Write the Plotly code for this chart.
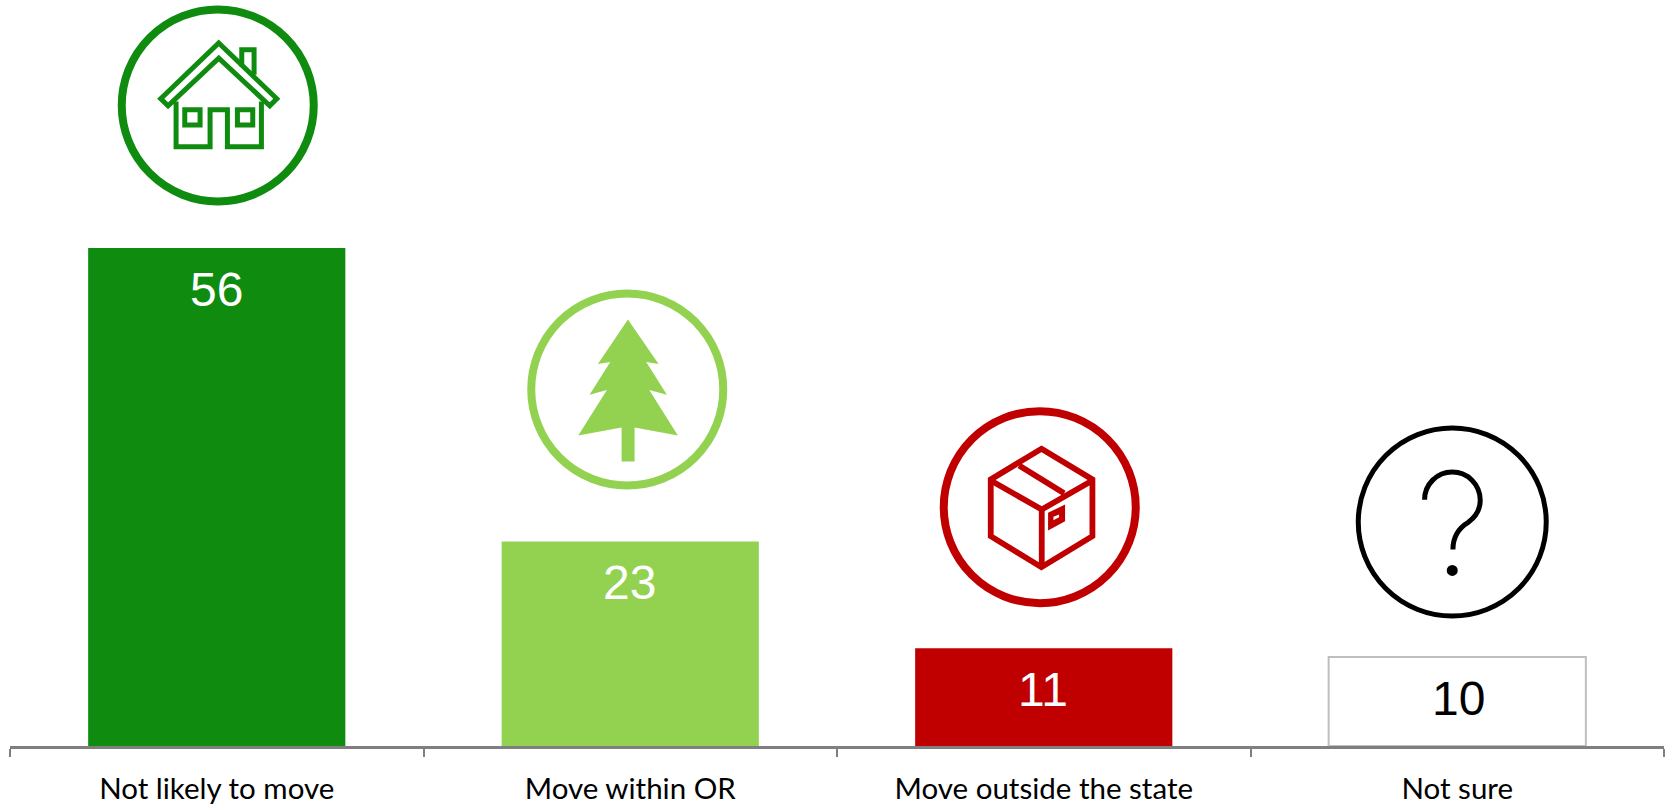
import plotly.graph_objects as go

categories = ["Not likely to move", "Move within OR", "Move outside the state", "Not sure"]
values = [56, 23, 11, 10]
bar_colors = ["#0F8C0F", "#92D250", "#C00000", "#FFFFFF"]
bar_lines = ["#0F8C0F", "#92D250", "#C00000", "#BFBFBF"]
bar_line_widths = [0, 0, 0, 2]
label_colors = ["#FFFFFF", "#FFFFFF", "#FFFFFF", "#000000"]
label_shifts = [0, -1, -1, 1]
icon_colors = ["#0F8C0F", "#92D250", "#C00000", "#000000"]
icon_rises = [142.5, 152, 141, 135]
icon_shifts = [1, -3, -4, -5]
icon_radii = [96, 96, 96, 94]
icon_strokes = [8, 8, 8, 5]

H = 3.0  # reference crop scale of the icon outlines


def to_path(cmds, c, i):
    out = []
    for cmd in cmds:
        if cmd == "Z":
            out.append("Z")
            continue
        letter, pts = cmd[0], cmd[1:]
        s = " ".join(f"{(x - c[0]) / H + icon_shifts[i]:.2f},{(c[1] - y) / H + icon_rises[i]:.2f}" for x, y in pts)
        out.append(letter + s)
    return " ".join(out)


def poly(pts, close=True):
    cmds = [("M", pts[0])] + [("L", p) for p in pts[1:]]
    return cmds + ["Z"] if close else cmds


house_center = (381, 317)
house = [
    poly([(384, 130), (558, 297), (537, 318), (384, 175), (232, 318), (210, 297)]),
    poly([(453, 200), (453, 150), (490, 150), (490, 225)], False),
    poly([(256, 305), (256, 441), (358, 441), (358, 330), (410, 330), (410, 441), (512, 441), (512, 305)], False),
    poly([(282, 330), (328, 330), (328, 376), (282, 376)]),
    poly([(440, 330), (486, 330), (486, 376), (440, 376)]),
]
tree_center = (351, 332)
tree = [
    poly([(353, 122), (445, 256), (408, 250), (470, 348), (417, 334), (503, 470), (373, 446), (373, 548),
          (334, 548), (334, 446), (204, 470), (290, 334), (238, 348), (300, 250), (263, 256)]),
]
box_center = (332, 328)
box = [
    poly([(337, 153), (490, 245), (490, 415), (337, 508), (185, 415), (185, 245)]),
    poly([(185, 248), (338, 335), (490, 248)], False),
    poly([(338, 335), (338, 508)], False),
    poly([(270, 203), (405, 286)], False),
]
box_label = poly([(357, 345), (408, 320), (408, 370), (357, 398)])
box_hole = poly([(373, 357), (390, 350), (390, 358), (373, 367)])
q_center = (336, 310)
q_curve = [
    ("M", (253, 243)),
    ("C", (253, 197), (290, 160), (336, 160)),
    ("C", (382, 160), (420, 197), (420, 245)),
    ("C", (420, 275), (405, 295), (385, 310)),
    ("C", (355, 328), (338, 355), (338, 392)),
]

fig = go.Figure(go.Bar(
    x=categories, y=values,
    marker=dict(color=bar_colors, line=dict(color=bar_lines, width=bar_line_widths)),
    hoverinfo="skip",
))


def icon_shape(i, path, color, width=0, fill=None):
    fig.add_shape(type="path", xref="x", yref="y", xsizemode="pixel", ysizemode="pixel",
                  xanchor=categories[i], yanchor=values[i], path=path,
                  line=dict(color=color, width=width), fillcolor=fill or "rgba(0,0,0,0)", layer="above")


for i, (cat, v) in enumerate(zip(categories, values)):
    r, rise, col, dx = icon_radii[i], icon_rises[i], icon_colors[i], icon_shifts[i]
    fig.add_shape(type="circle", xref="x", yref="y", xsizemode="pixel", ysizemode="pixel",
                  xanchor=cat, yanchor=v, x0=dx - r, x1=dx + r, y0=rise - r, y1=rise + r,
                  line=dict(color=col, width=icon_strokes[i]), fillcolor="rgba(0,0,0,0)")
    fig.add_annotation(x=cat, y=v, yref="y", text=str(v), showarrow=False, yshift=-41.5, xshift=label_shifts[i],
                       yanchor="middle", font=dict(family="Liberation Sans", size=48, color=label_colors[i]))

for part in house:
    icon_shape(0, to_path(part, house_center, 0), icon_colors[0], 5)
for part in tree:
    icon_shape(1, to_path(part, tree_center, 1), icon_colors[1], 0, icon_colors[1])
for part in box:
    icon_shape(2, to_path(part, box_center, 2), icon_colors[2], 5.8)
icon_shape(2, to_path(box_label, box_center, 2), icon_colors[2], 0, icon_colors[2])
icon_shape(2, to_path(box_hole, box_center, 2), "#FFFFFF", 0, "#FFFFFF")
icon_shape(3, to_path(q_curve, q_center, 3), icon_colors[3], 5)
d = 5.5
qx, qy = (336 - q_center[0]) / H + icon_shifts[3], (q_center[1] - 455) / H + icon_rises[3]
fig.add_shape(type="circle", xref="x", yref="y", xsizemode="pixel", ysizemode="pixel",
              xanchor=categories[3], yanchor=values[3], x0=qx - d, x1=qx + d, y0=qy - d, y1=qy + d,
              line=dict(width=0), fillcolor=icon_colors[3])

fig.update_layout(
    width=1667, height=805, margin=dict(l=10, r=3, t=0, b=56),
    paper_bgcolor="white", plot_bgcolor="white", showlegend=False, bargap=0.378,
    xaxis=dict(type="category", range=[-0.5, 3.5], tickson="boundaries", ticks="outside", ticklen=8,
               tickwidth=2, tickcolor="#7F7F7F", showline=True, linecolor="#7F7F7F", linewidth=2.5,
               showgrid=False, zeroline=False, fixedrange=True, ticklabelstandoff=15,
               tickfont=dict(family="Lato", size=29.5, color="#000000")),
    yaxis=dict(range=[0, 83.87], visible=False, fixedrange=True),
)
fig.write_html("out.html", config=dict(displayModeBar=False),
               post_script="document.body.style.margin='0';document.documentElement.style.overflow='hidden';")
